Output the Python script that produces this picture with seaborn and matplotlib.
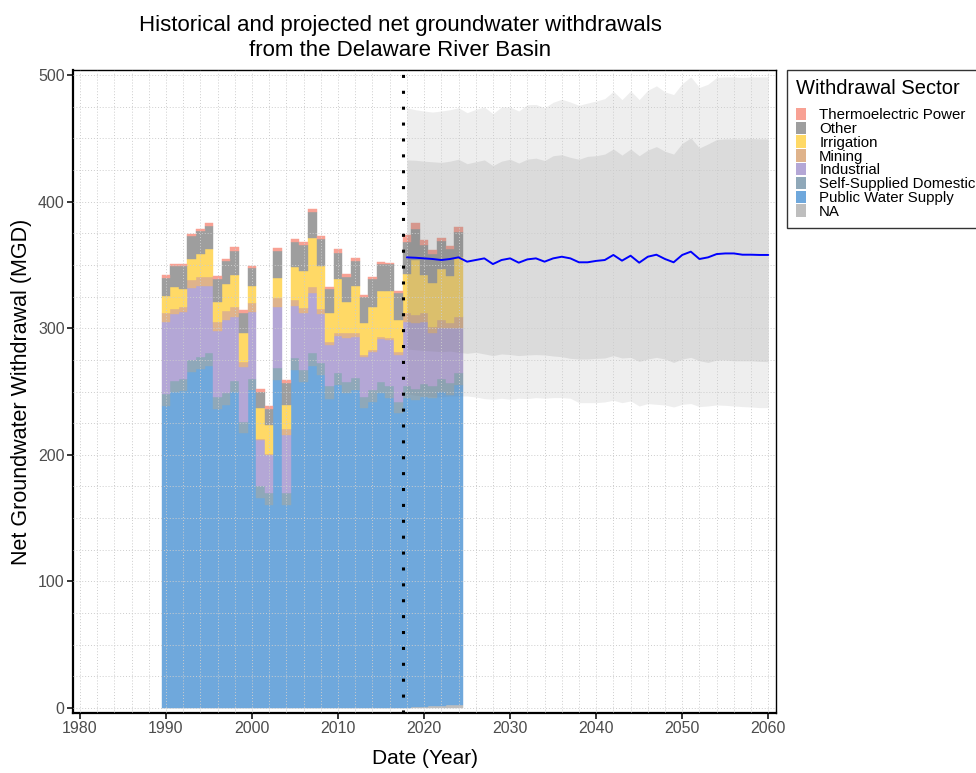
import numpy as np
import pandas as pd
import matplotlib
matplotlib.use("Agg")
import matplotlib.pyplot as plt
from matplotlib.patches import Patch
import seaborn as sns

# ---------- historical withdrawals (MGD), 1990-2024 ----------
YEARS = list(range(1990, 2025))
NA_SECTOR = [0, 0, 0, 0, 0, 0, 0, 0, 0, 0, 0, 0, 0, 0, 0, 0, 0, 0, 0, 0,
             0, 0, 0, 0, 0, 0, 0, 0, 0.2, 0.5, 1.0, 1.3, 1.7, 2.1, 2.5]
PUBLIC = [238.7, 250.0, 250.5, 265.8, 268.0, 270.5, 236.1, 239.2, 249.5, 217.1,
          251.3, 165.8, 160.5, 259.2, 160.5, 267.1, 257.9, 270.5, 263.2, 244.0,
          255.3, 248.7, 251.3, 236.9, 242.1, 248.7, 244.8, 232.9, 244.6, 242.9,
          245.0, 243.5, 248.3, 245.3, 252.8]
DOMESTIC = [9.5, 8.4, 9.3, 9.2, 9.6, 9.8, 9.2, 9.5, 8.9, 9.2,
            8.5, 9.7, 9.3, 9.2, 9.3, 9.2, 9.2, 9.8, 9.7, 10.0,
            9.7, 9.2, 9.2, 9.1, 9.2, 9.2, 9.2, 9.2, 9.2, 8.5,
            10.1, 9.2, 9.8, 9.2, 9.2]
INDUSTRIAL = [57.1, 52.9, 53.2, 57.1, 55.8, 53.1, 52.9, 57.9, 50.8, 42.9,
              53.4, 36.4, 30.2, 48.2, 46.0, 41.3, 44.7, 47.9, 38.4, 32.9,
              29.0, 34.2, 32.9, 31.1, 30.3, 33.4, 36.8, 36.9, 51.3, 52.0,
              49.2, 42.0, 40.2, 43.4, 35.5]
MINING = [6.5, 3.7, 4.0, 5.8, 7.4, 7.4, 7.1, 7.4, 7.8, 4.5,
          7.1, 0.6, 0.5, 7.6, 4.7, 4.8, 4.0, 4.7, 3.7, 2.6,
          2.6, 3.9, 2.6, 1.9, 1.3, 2.1, 1.3, 2.6, 6.5, 6.6,
          6.5, 5.3, 6.6, 4.5, 9.2]
IRRIGATION = [13.7, 17.4, 14.0, 16.8, 17.9, 21.8, 15.7, 21.0, 25.0, 22.3,
              13.1, 24.4, 22.7, 15.3, 19.0, 25.8, 29.5, 38.1, 34.2, 22.3,
              42.1, 24.5, 37.7, 24.9, 34.2, 36.1, 37.4, 25.0, 31.1, 43.4,
              30.3, 34.7, 40.2, 36.8, 47.4]
OTHER = [14.5, 16.8, 18.0, 17.9, 18.1, 18.4, 17.7, 17.9, 19.3, 15.8,
         14.0, 13.1, 13.2, 21.8, 17.6, 20.2, 20.5, 21.1, 21.3, 19.2,
         21.0, 20.3, 19.7, 20.6, 21.6, 21.3, 21.0, 21.0, 25.5, 24.3,
         23.4, 22.7, 22.1, 21.1, 19.7]
THERMO = [2.0, 1.6, 1.5, 1.6, 1.6, 2.4, 2.6, 1.8, 2.9, 2.7,
          1.8, 1.9, 2.3, 2.1, 2.1, 2.1, 2.6, 2.1, 2.4, 1.9,
          2.7, 2.1, 1.9, 1.8, 2.1, 1.6, 1.3, 1.9, 5.3, 4.7,
          4.2, 3.1, 2.7, 2.6, 3.4]

# ---------- projections, 2018-2060 ----------
PROJ_YEARS = list(range(2018, 2061))
PROJ_MEDIAN = [356.0, 355.7, 355.2, 354.7, 353.9, 354.7, 356.0, 352.6, 353.9, 355.2,
               350.7, 353.9, 355.2, 351.8, 354.4, 355.2, 352.6, 355.2, 356.5, 355.2,
               352.1, 352.1, 353.2, 353.9, 357.9, 353.4, 357.3, 351.8, 356.5, 358.1,
               354.7, 352.1, 357.9, 360.5, 354.7, 356.0, 358.6, 359.1, 359.1, 358.1,
               358.1, 357.9, 357.9]
OUTER_HI = [474.2, 472.6, 471.6, 470.8, 471.6, 472.6, 474.2, 470.3, 472.9, 474.8,
            469.5, 474.8, 474.8, 471.6, 476.6, 476.8, 474.2, 478.5, 480.9, 478.7,
            476.1, 477.9, 479.5, 481.4, 487.2, 480.6, 487.5, 480.6, 488.0, 491.5,
            486.7, 484.6, 493.3, 498.6, 490.2, 492.8, 498.1, 498.6, 498.6, 498.1,
            498.6, 498.6, 498.6]
INNER_HI = [433.0, 432.7, 432.0, 431.5, 431.0, 432.0, 433.5, 430.0, 431.5, 433.0,
            428.5, 432.0, 433.5, 430.5, 433.6, 434.4, 432.5, 436.3, 437.1, 435.0,
            433.5, 435.8, 436.3, 437.6, 441.6, 436.8, 441.6, 436.3, 440.8, 443.5,
            439.8, 437.6, 446.1, 450.4, 442.4, 445.6, 449.1, 449.6, 449.6, 449.4,
            449.9, 449.6, 449.6]
INNER_LO = [283.6, 283.0, 282.5, 282.0, 281.5, 282.0, 281.0, 280.2, 281.0, 279.7,
            278.4, 279.7, 279.2, 278.4, 278.9, 279.2, 278.9, 278.1, 277.5, 276.2,
            275.7, 275.7, 276.2, 276.5, 278.4, 276.5, 277.0, 273.8, 275.7, 277.0,
            275.7, 273.0, 275.7, 277.0, 274.3, 273.0, 274.9, 274.9, 274.3, 274.3,
            274.3, 273.8, 273.6]
OUTER_LO = [248.4, 247.0, 246.5, 246.0, 245.7, 246.5, 246.5, 246.5, 245.7, 244.4,
            243.9, 244.7, 243.9, 244.7, 244.4, 245.2, 244.7, 245.2, 245.2, 244.7,
            241.2, 241.2, 241.2, 241.8, 243.1, 241.2, 242.6, 238.6, 240.5, 239.9,
            239.4, 237.8, 239.9, 240.5, 238.1, 238.6, 239.4, 239.1, 238.6, 238.1,
            237.8, 237.3, 237.3]

# stacking order, bottom to top
SECTORS = ["NA", "Public Water Supply", "Self-Supplied Domestic", "Industrial",
           "Mining", "Irrigation", "Other", "Thermoelectric Power"]
SECTOR_VALUES = [NA_SECTOR, PUBLIC, DOMESTIC, INDUSTRIAL, MINING, IRRIGATION, OTHER, THERMO]
COLORS = {
    "Thermoelectric Power": "#F8A194",
    "Other": "#9E9E9E",
    "Irrigation": "#FFD966",
    "Mining": "#DFB38B",
    "Industrial": "#B4A7D6",
    "Self-Supplied Domestic": "#8FA8B9",
    "Public Water Supply": "#6FA8DC",
    "NA": "#BEBEBE",
}

# ---------- style ----------
sns.set_theme(style="white")
plt.rcParams["font.family"] = ["Liberation Sans", "DejaVu Sans"]
plt.rcParams["text.color"] = "black"
plt.rcParams["axes.labelcolor"] = "black"

fig = plt.figure(figsize=(9.76, 7.73), dpi=100)
ax = fig.add_axes([0.0748, 0.0776, 0.7203, 0.8318])

# stacked bars
bottom = np.zeros(len(YEARS))
for name, vals in zip(SECTORS, SECTOR_VALUES):
    vals = np.array(vals, dtype=float)
    ax.bar(YEARS, vals, width=1.0, bottom=bottom, color=COLORS[name],
           edgecolor=COLORS[name], linewidth=0.3, zorder=1)
    bottom += vals

# projection ribbons drawn over the bars
ax.fill_between(PROJ_YEARS, OUTER_LO, OUTER_HI, color="#7F7F7F", alpha=0.13,
                linewidth=0, zorder=1.2)
ax.fill_between(PROJ_YEARS, INNER_LO, INNER_HI, color="#7F7F7F", alpha=0.17,
                linewidth=0, zorder=1.3)

proj = pd.DataFrame({"year": PROJ_YEARS, "median": PROJ_MEDIAN})
sns.lineplot(data=proj, x="year", y="median", color="#0000FF", linewidth=1.4,
             ax=ax, zorder=3)

ax.axvline(2017.5, color="black", linestyle=(0, (1, 4.2)), linewidth=2.2, zorder=4)

# axes
ax.set_xlim(1979.2, 2060.9)
ax.set_ylim(-4, 504)
ax.set_xticks(range(1980, 2061, 10))
ax.set_yticks(range(0, 501, 100))
ax.set_xticks(range(1980, 2061, 2), minor=True)
ax.set_yticks(range(0, 501, 25), minor=True)
ax.set_axisbelow(False)
ax.grid(True, which="both", color="#CDCDCD", linestyle=(0, (1, 2)), linewidth=0.7)
ax.tick_params(axis="both", which="major", length=4, width=1.1, color="black",
               labelsize=11.5, labelcolor="#4D4D4D", direction="out",
               bottom=True, left=True, pad=2)
ax.tick_params(axis="both", which="minor", length=0)
for side in ["left", "bottom"]:
    ax.spines[side].set_linewidth(1.6)
for side in ["top", "right"]:
    ax.spines[side].set_linewidth(1.0)
for sp in ax.spines.values():
    sp.set_color("black")
    sp.set_visible(True)

ax.set_xlabel("Date (Year)", fontsize=15, color="black", labelpad=9)
ax.set_ylabel("Net Groundwater Withdrawal (MGD)", fontsize=15.5, color="black", labelpad=4)

fig.text(0.41, 0.981, "Historical and projected net groundwater withdrawals\nfrom the Delaware River Basin",
         ha="center", va="top", fontsize=16, linespacing=1.3, color="black")

# legend
legend_order = ["Thermoelectric Power", "Other", "Irrigation", "Mining", "Industrial",
                "Self-Supplied Domestic", "Public Water Supply", "NA"]
handles = [Patch(facecolor=COLORS[n], edgecolor="none") for n in legend_order]
leg = ax.legend(handles, legend_order, title="Withdrawal Sector", loc="upper left",
                bbox_to_anchor=(1.0156, 1.0), borderaxespad=0, fontsize=10.8,
                title_fontsize=14.5, frameon=True, fancybox=False, edgecolor="black",
                handlelength=0.7, handleheight=0.9, handletextpad=0.85,
                labelspacing=-0.04, borderpad=0.6, alignment="left")
leg._legend_box.sep = 7
leg.get_frame().set_linewidth(1.0)

fig.savefig("out.png", dpi=100)
